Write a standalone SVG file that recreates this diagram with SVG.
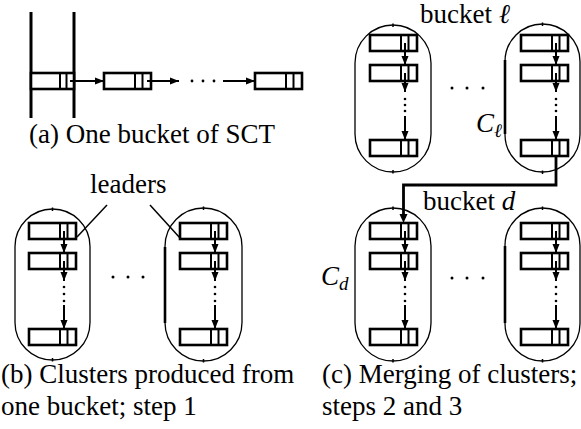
<svg xmlns="http://www.w3.org/2000/svg" xmlns:xlink="http://www.w3.org/1999/xlink" width="581" height="429" viewBox="0 0 581 429">
<style>
text{font-family:'Liberation Serif','Times New Roman',Tinos,'DejaVu Serif',serif;font-size:27px;fill:#000}
.i{font-style:italic}
.bx{fill:#fff;stroke:#000;stroke-width:2.6}
.dv{stroke:#000;stroke-width:2}
.cl{fill:none;stroke:#000;stroke-width:1.3}
.th{stroke:#000;stroke-width:2.6}
.ar{stroke:#000;stroke-width:2;fill:none;marker-end:url(#ah)}
.ln{stroke:#000;stroke-width:1.5}
.cn{stroke:#000;stroke-width:2.8;fill:none}
.bar{stroke:#000;stroke-width:3}
</style>
<defs>
<marker id="ah" markerUnits="userSpaceOnUse" markerWidth="10" markerHeight="8" refX="9" refY="4" orient="auto">
<path d="M0,0.5 L9,4 L0,7.5 Z" fill="#000"/>
</marker>
<g id="box">
<rect class="bx" x="0" y="0" width="47" height="16"/>
<line class="dv" x1="31" y1="0" x2="31" y2="16"/>
<line class="dv" x1="38.5" y1="0" x2="38.5" y2="16"/>
</g>
<g id="vchain">
<use xlink:href="#box" x="0" y="0"/>
<use xlink:href="#box" x="0" y="30"/>
<use xlink:href="#box" x="0" y="106"/>
<line class="ar" x1="35" y1="8" x2="35" y2="30"/>
<line class="ar" x1="35" y1="38" x2="35" y2="58"/>
<circle cx="35" cy="64" r="1.3"/>
<circle cx="35" cy="71" r="1.3"/>
<circle cx="35" cy="78" r="1.3"/>
<line class="ar" x1="35" y1="82" x2="35" y2="106"/>
</g>
</defs>

<g id="connectors">
<line class="ln" x1="107" y1="205" x2="77" y2="237"/>
<line class="ln" x1="150" y1="205" x2="180" y2="238"/>
<path class="cn" d="M556,150 V185 H403.5 V215"/>
<path d="M399.5,214 L403.5,223 L407.5,214 Z" fill="#000"/>
</g>

<g id="panel-a">
<line class="bar" x1="31" y1="12" x2="31" y2="118"/>
<line class="bar" x1="74" y1="12" x2="74" y2="118"/>
<rect class="bx" x="31" y="73" width="43" height="16"/>
<line class="dv" x1="60" y1="73" x2="60" y2="89"/>
<line class="dv" x1="66.5" y1="73" x2="66.5" y2="89"/>
<use xlink:href="#box" x="104" y="73"/>
<use xlink:href="#box" x="255" y="73"/>
<line class="ar" x1="70" y1="81" x2="104" y2="81"/>
<line class="ar" x1="147" y1="81" x2="179" y2="81"/>
<circle cx="192" cy="81" r="1.4"/>
<circle cx="203" cy="81" r="1.4"/>
<circle cx="214" cy="81" r="1.4"/>
<line class="ar" x1="223" y1="81" x2="255" y2="81"/>
<text x="29" y="143">(a) One bucket of SCT</text>
</g>

<g id="panel-b-left">
<path class="cl" d="M15,246.5 A37.5,37.5 0 0 1 90,246.5 L90,322.5 A37.5,37.5 0 0 1 15,322.5 Z"/>
<line class="ln" x1="52.5" y1="207.5" x2="52.5" y2="211"/>
<line class="ln" x1="52.5" y1="358" x2="52.5" y2="361.5"/>
<use xlink:href="#vchain" x="29" y="223"/>
</g>
<g id="panel-b-right">
<path class="cl" d="M165,246.5 A38.5,38.5 0 0 1 242,246.5 L242,322.5 A38.5,38.5 0 0 1 165,322.5 Z"/>
<line class="th" x1="165" y1="247" x2="165" y2="323"/>
<line class="ln" x1="203.5" y1="206.5" x2="203.5" y2="210"/>
<line class="ln" x1="203.5" y1="359" x2="203.5" y2="362.5"/>
<use xlink:href="#vchain" x="180" y="223"/>
</g>
<g id="panel-b-dots">
<circle cx="113" cy="277" r="1.5"/>
<circle cx="128" cy="277" r="1.5"/>
<circle cx="143" cy="277" r="1.5"/>
<text x="90" y="193">leaders</text>
<text x="1" y="383">(b) Clusters produced from</text>
<text x="1" y="415">one bucket; step 1</text>
</g>

<g id="panel-c-top-left">
<path class="cl" d="M355,63 A38,38 0 0 1 431,63 L431,134 A38,38 0 0 1 355,134 Z"/>
<line class="ln" x1="393" y1="23.5" x2="393" y2="27"/>
<line class="ln" x1="393" y1="170" x2="393" y2="173.5"/>
<g transform="translate(370,35)">
<use xlink:href="#box" x="0" y="0"/>
<use xlink:href="#box" x="0" y="30"/>
<use xlink:href="#box" x="0" y="105"/>
<line class="ar" x1="35" y1="8" x2="35" y2="30"/>
<line class="ar" x1="35" y1="38" x2="35" y2="57"/>
<circle cx="35" cy="64" r="1.3"/>
<circle cx="35" cy="70" r="1.3"/>
<circle cx="35" cy="76" r="1.3"/>
<line class="ar" x1="35" y1="81" x2="35" y2="105"/>
</g>
</g>
<g id="panel-c-top-right">
<path class="cl" d="M505,61.5 A37.5,37.5 0 0 1 580,61.5 L580,134.5 A37.5,37.5 0 0 1 505,134.5 Z"/>
<line class="th" x1="505" y1="60" x2="505" y2="134"/>
<line class="ln" x1="542.5" y1="22.5" x2="542.5" y2="26"/>
<line class="ln" x1="542.5" y1="170.5" x2="542.5" y2="174"/>
<g transform="translate(521,35)">
<use xlink:href="#box" x="0" y="0"/>
<use xlink:href="#box" x="0" y="30"/>
<use xlink:href="#box" x="0" y="105"/>
<line class="ar" x1="35" y1="8" x2="35" y2="30"/>
<line class="ar" x1="35" y1="38" x2="35" y2="57"/>
<circle cx="35" cy="64" r="1.3"/>
<circle cx="35" cy="70" r="1.3"/>
<circle cx="35" cy="76" r="1.3"/>
<line class="ar" x1="35" y1="81" x2="35" y2="105"/>
</g>
</g>
<g id="panel-c-bottom-left">
<path class="cl" d="M355,246 A38,38 0 0 1 431,246 L431,323 A38,38 0 0 1 355,323 Z"/>
<line class="ln" x1="393" y1="206.5" x2="393" y2="210"/>
<line class="ln" x1="393" y1="359" x2="393" y2="362.5"/>
<use xlink:href="#vchain" x="370" y="223"/>
</g>
<g id="panel-c-bottom-right">
<path class="cl" d="M505,245.5 A37.5,37.5 0 0 1 580,245.5 L580,323.5 A37.5,37.5 0 0 1 505,323.5 Z"/>
<line class="th" x1="505" y1="246" x2="505" y2="323"/>
<line class="ln" x1="542.5" y1="206.5" x2="542.5" y2="210"/>
<line class="ln" x1="542.5" y1="359" x2="542.5" y2="362.5"/>
<use xlink:href="#vchain" x="521" y="223"/>
</g>
<g id="panel-c-labels">
<circle cx="452" cy="88" r="1.5"/>
<circle cx="467" cy="88" r="1.5"/>
<circle cx="483" cy="88" r="1.5"/>
<circle cx="452" cy="278" r="1.5"/>
<circle cx="467" cy="278" r="1.5"/>
<circle cx="483" cy="278" r="1.5"/>
<text x="420" y="23">bucket <tspan class="i">ℓ</tspan></text>
<text x="423" y="210">bucket <tspan class="i">d</tspan></text>
<text class="i" x="476" y="132">C<tspan font-size="19" dy="5">ℓ</tspan></text>
<text class="i" x="321" y="285">C<tspan font-size="19" dy="5">d</tspan></text>
<text x="322" y="383">(c) Merging of clusters;</text>
<text x="322" y="415">steps 2 and 3</text>
</g>
</svg>
